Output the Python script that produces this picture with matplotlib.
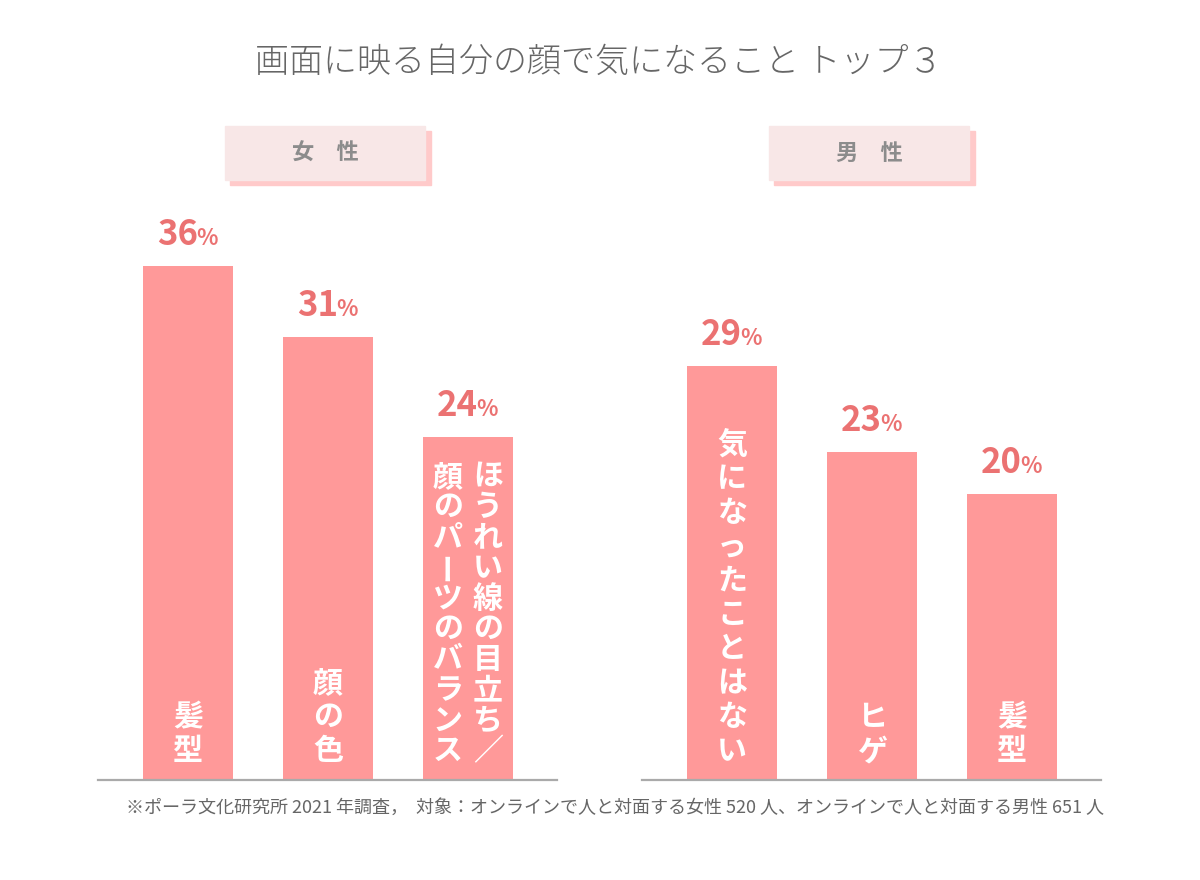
import matplotlib.pyplot as plt
from matplotlib.patches import Rectangle

plt.rcParams['font.family'] = ['Noto Sans CJK JP', 'DejaVu Sans']

W, H = 1200, 880
title = '画面に映る自分の顔で気になること トップ３'
panel_titles = ['女　性', '男　性']
female_labels = ['髪型', '顔の色', 'ほうれい線の目立ち／\n顔のパーツのバランス']
female_values = [36, 31, 24]
male_labels = ['気になったことはない', 'ヒゲ', '髪型']
male_values = [29, 23, 20]
note = '※ポーラ文化研究所 2021 年調査，  対象：オンラインで人と対面する女性 520 人、オンラインで人と対面する男性 651 人'

bar_color = '#ff9999'
value_color = '#eb7272'
text_gray = '#666666'
box_color = '#f8e7e7'
shadow_color = '#ffcaca'
PT = 0.72  # points per pixel at dpi 100


def fx(x):
    return x / W


def fy(y):
    return 1 - y / H


def vlabel(ax, x, value, text, scale):
    cols = text.split('\n')
    em = 30
    n = max(len(c) for c in cols)
    adv = min(34, (value * scale - 38) / n)
    for j, col in enumerate(cols):
        dx = (len(cols) - 1) / 2 * 40 - j * 40
        for k, ch in enumerate(col):
            base = 20 + adv * (len(col) - 1 - k)
            if ch == 'ー':
                ax.annotate(ch, xy=(x, 0), xytext=(dx * PT, (base + 0.38 * em) * PT),
                            textcoords='offset points', ha='center', va='center',
                            rotation=90, color='white', fontsize=em * PT, fontweight='bold')
            else:
                ax.annotate(ch, xy=(x, 0), xytext=(dx * PT, base * PT),
                            textcoords='offset points', ha='center', va='baseline',
                            color='white', fontsize=em * PT, fontweight='bold')


def panel(left, labels, values, head):
    ax = fig.add_axes([fx(left), fy(780), 459 / W, 580 / H])
    xs = list(range(len(values)))
    ax.bar(xs, values, width=90 / 140, color=bar_color, zorder=2)
    ax.set_xlim(-90 / 140, 2 + 89 / 140)
    ax.set_ylim(0, 580 / (514 / 36))
    for s in ['top', 'left', 'right']:
        ax.spines[s].set_visible(False)
    ax.spines['bottom'].set_color('#aaaaaa')
    ax.spines['bottom'].set_linewidth(1.6)
    ax.set_xticks([])
    ax.set_yticks([])
    ax.patch.set_alpha(0)
    fig.canvas.draw()
    scale = ax.transData.transform((0, 1))[1] - ax.transData.transform((0, 0))[1]
    for x, v, lab in zip(xs, values, labels):
        ax.annotate(str(v), xy=(x, v), xytext=(10 * PT, 21 * PT), textcoords='offset points',
                    ha='right', va='baseline', color=value_color, fontsize=25, fontweight='bold')
        ax.annotate('%', xy=(x, v), xytext=(8 * PT, 21 * PT), textcoords='offset points',
                    ha='left', va='baseline', color=value_color, fontsize=16, fontweight='bold')
        vlabel(ax, x, v, lab, scale)
    # header box
    bx = left + 127
    fig.patches.append(Rectangle((fx(bx + 5), fy(185)), 201 / W, 54 / H,
                                 transform=fig.transFigure, color=shadow_color, zorder=0))
    fig.patches.append(Rectangle((fx(bx), fy(180)), 200 / W, 54 / H,
                                 transform=fig.transFigure, color=box_color, zorder=1))
    fig.text(fx(bx + 100), fy(153), head, ha='center', va='center', fontsize=16,
             fontweight='bold', color='#8c8c8c', zorder=3)
    return ax


fig = plt.figure(figsize=(W / 100, H / 100), dpi=100)
fig.text(fx(599), fy(62), title, ha='center', va='center', fontsize=24.5,
         fontweight='light', color=text_gray)
panel(98, female_labels, female_values, panel_titles[0])
panel(642, male_labels, male_values, panel_titles[1])
fig.text(fx(615), fy(808), note, ha='center', va='center', fontsize=13, color=text_gray)

fig.savefig('out.png', dpi=100)
